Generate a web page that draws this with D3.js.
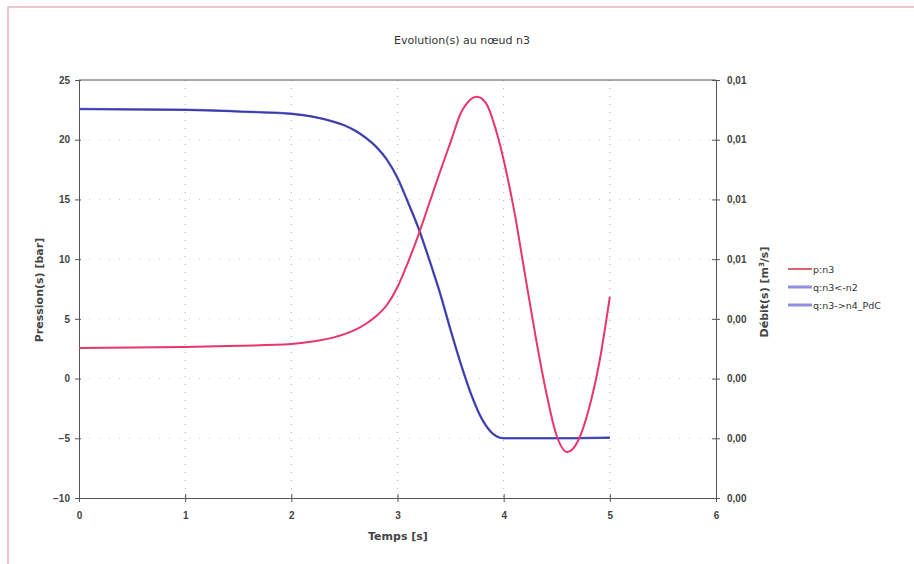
<!DOCTYPE html>
<html>
<head>
<meta charset="utf-8">
<script src="https://cdn.jsdelivr.net/npm/d3@7"></script>
<style>
  body { margin: 0; background: #fff; }
  svg { font-family: "DejaVu Sans", "Liberation Sans", sans-serif; }
  .axis text { font-size: 10px; font-weight: bold; fill: #444; }
  .axis path, .axis line { stroke: #555; }
</style>
</head>
<body>
<div id="chart-area"></div>
<script>
// data
const timeP = [0, 1, 1.5, 2, 2.2, 2.4, 2.5, 2.6, 2.7, 2.8, 2.9, 3.0, 3.1, 3.2, 3.3, 3.4, 3.5, 3.6, 3.65, 3.7, 3.75, 3.8, 3.85, 3.9, 3.95, 4.0, 4.1, 4.2, 4.3, 4.4, 4.5, 4.6, 4.7, 4.8, 4.9, 5.0]
const pressure = [2.56, 2.64, 2.74, 2.89, 3.1, 3.45, 3.72, 4.07, 4.57, 5.24, 6.16, 7.67, 9.76, 12.1, 14.7, 17.3, 19.8, 22.3, 23.0, 23.45, 23.6, 23.4, 22.8, 21.6, 20.1, 18.3, 14.0, 8.76, 3.56, -1.12, -4.81, -6.15, -5.23, -2.63, 1.30, 6.85]

const timeQ = [0, 1, 1.5, 2, 2.2, 2.4, 2.5, 2.6, 2.7, 2.8, 2.9, 3.0, 3.1, 3.2, 3.3, 3.4, 3.5, 3.6, 3.7, 3.8, 3.9, 4.0, 4.5, 5.0]
const flowIn = [0.00977, 0.00975, 0.00971, 0.00965, 0.00958, 0.00945, 0.00936, 0.00923, 0.00905, 0.00882, 0.00850, 0.00804, 0.00742, 0.00676, 0.00598, 0.00515, 0.00422, 0.00334, 0.00256, 0.00196, 0.00161, 0.00150, 0.00150, 0.00152]
const flowOut = [0.00977, 0.00975, 0.00971, 0.00965, 0.00958, 0.00945, 0.00936, 0.00923, 0.00905, 0.00882, 0.00850, 0.00804, 0.00742, 0.00676, 0.00598, 0.00515, 0.00422, 0.00334, 0.00256, 0.00196, 0.00161, 0.00150, 0.00150, 0.00151]

const seriesNames = ["p:n3", "q:n3<-n2", "q:n3->n4_PdC"]
const seriesColors = ["#e8356b", "#7f7fd8", "#3a3aa8"]

const xTicks = [0, 1, 2, 3, 4, 5, 6]
const yLeftTicks = [-10, -5, 0, 5, 10, 15, 20, 25]
const yRightTicks = [0, 0.0015, 0.003, 0.0045, 0.006, 0.0075, 0.009, 0.0105]

const MARGIN = { LEFT: 79, RIGHT: 198, TOP: 80, BOTTOM: 66 }
const W = 914, H = 564
const WIDTH = W - MARGIN.LEFT - MARGIN.RIGHT
const HEIGHT = H - MARGIN.TOP - MARGIN.BOTTOM

const svg = d3.select("#chart-area").append("svg")
  .attr("width", W)
  .attr("height", H)

// scanned frame
svg.append("rect")
  .attr("x", 8).attr("y", 7)
  .attr("width", 920).attr("height", 570)
  .attr("fill", "none")
  .attr("stroke", "#e7a3ab")
  .attr("stroke-width", 1.2)

const g = svg.append("g")
  .attr("transform", `translate(${MARGIN.LEFT}, ${MARGIN.TOP})`)

const x = d3.scaleLinear().domain([0, 6]).range([0, WIDTH])
const yL = d3.scaleLinear().domain([-10, 25]).range([HEIGHT, 0])
const yR = d3.scaleLinear().domain([0, 0.0105]).range([HEIGHT, 0])

// faint grid
g.append("g").selectAll("line")
  .data(xTicks.slice(1, -1))
  .enter().append("line")
  .attr("x1", d => x(d)).attr("x2", d => x(d))
  .attr("y1", 0).attr("y2", HEIGHT)
  .attr("stroke", "#999")
  .attr("stroke-width", 0.8)
  .attr("stroke-dasharray", "1,7")
g.append("g").selectAll("line")
  .data(yLeftTicks.slice(1, -1))
  .enter().append("line")
  .attr("x1", 0).attr("x2", WIDTH)
  .attr("y1", d => yL(d)).attr("y2", d => yL(d))
  .attr("stroke", "#b8b8e0")
  .attr("stroke-width", 0.8)
  .attr("stroke-dasharray", "1,9")

// axes
const fr = d3.formatLocale({ decimal: ",", thousands: " ", grouping: [3], currency: ["", "€"] })

g.append("g")
  .attr("class", "axis")
  .attr("transform", `translate(0, ${HEIGHT})`)
  .call(d3.axisBottom(x).tickValues(xTicks).tickSize(4).tickPadding(10).tickFormat(d3.format("d")))
  .call(a => a.selectAll(".tick line").attr("y1", -4))

g.append("g")
  .attr("class", "axis")
  .call(d3.axisLeft(yL).tickValues(yLeftTicks).tickSize(4).tickPadding(5))
  .call(a => a.selectAll(".tick line").attr("x2", -4).attr("x1", 2))

g.append("g")
  .attr("class", "axis")
  .attr("transform", `translate(${WIDTH}, 0)`)
  .call(d3.axisRight(yR).tickValues(yRightTicks).tickSize(4).tickPadding(7).tickFormat(fr.format(".2f")))
  .call(a => a.selectAll(".tick line").attr("x1", -4))

// top border
g.append("line")
  .attr("x1", 0).attr("x2", WIDTH)
  .attr("y1", 0).attr("y2", 0)
  .attr("stroke", "#555")

// lines
const lineP = d3.line()
  .x((d, i) => x(timeP[i]))
  .y(d => yL(d))
  .curve(d3.curveMonotoneX)
const lineQ = d3.line()
  .x((d, i) => x(timeQ[i]))
  .y(d => yR(d))
  .curve(d3.curveMonotoneX)

g.append("path")
  .datum(flowIn)
  .attr("d", lineQ)
  .attr("fill", "none")
  .attr("stroke", seriesColors[1])
  .attr("stroke-width", 2.5)
g.append("path")
  .datum(flowOut)
  .attr("d", lineQ)
  .attr("fill", "none")
  .attr("stroke", seriesColors[2])
  .attr("stroke-width", 1.6)
g.append("path")
  .datum(pressure)
  .attr("d", lineP)
  .attr("fill", "none")
  .attr("stroke", seriesColors[0])
  .attr("stroke-width", 2)

// title
svg.append("text")
  .attr("x", 462).attr("y", 44)
  .attr("text-anchor", "middle")
  .attr("font-size", "11px")
  .attr("fill", "#333")
  .text("Evolution(s) au nœud n3")

// axis labels
svg.append("text")
  .attr("x", 398).attr("y", 540)
  .attr("text-anchor", "middle")
  .attr("font-size", "11px")
  .attr("font-weight", "bold")
  .attr("fill", "#444")
  .text("Temps [s]")

svg.append("text")
  .attr("transform", "translate(43, 290) rotate(-90)")
  .attr("text-anchor", "middle")
  .attr("font-size", "11px")
  .attr("font-weight", "bold")
  .attr("fill", "#444")
  .text("Pression(s) [bar]")

const rl = svg.append("text")
  .attr("transform", "translate(768, 292) rotate(-90)")
  .attr("text-anchor", "middle")
  .attr("font-size", "11px")
  .attr("font-weight", "bold")
  .attr("fill", "#444")
rl.append("tspan").text("Débit(s) [m")
rl.append("tspan").attr("font-size", "7px").attr("dy", -4).text("3")
rl.append("tspan").attr("dy", 4).text("/s]")

// legend
const legend = svg.append("g").attr("transform", "translate(788, 269)")
seriesNames.forEach((name, i) => {
  const row = legend.append("g").attr("transform", `translate(0, ${i * 18})`)
  row.append("line")
    .attr("x1", 0).attr("x2", 24)
    .attr("stroke", i === 0 ? "#d9646e" : "#8f8fde")
    .attr("stroke-width", i === 0 ? 2 : 3)
  row.append("text")
    .attr("x", 25).attr("y", 3.5)
    .attr("font-size", "9.5px")
    .attr("fill", "#333")
    .text(name)
})
</script>
</body>
</html>
